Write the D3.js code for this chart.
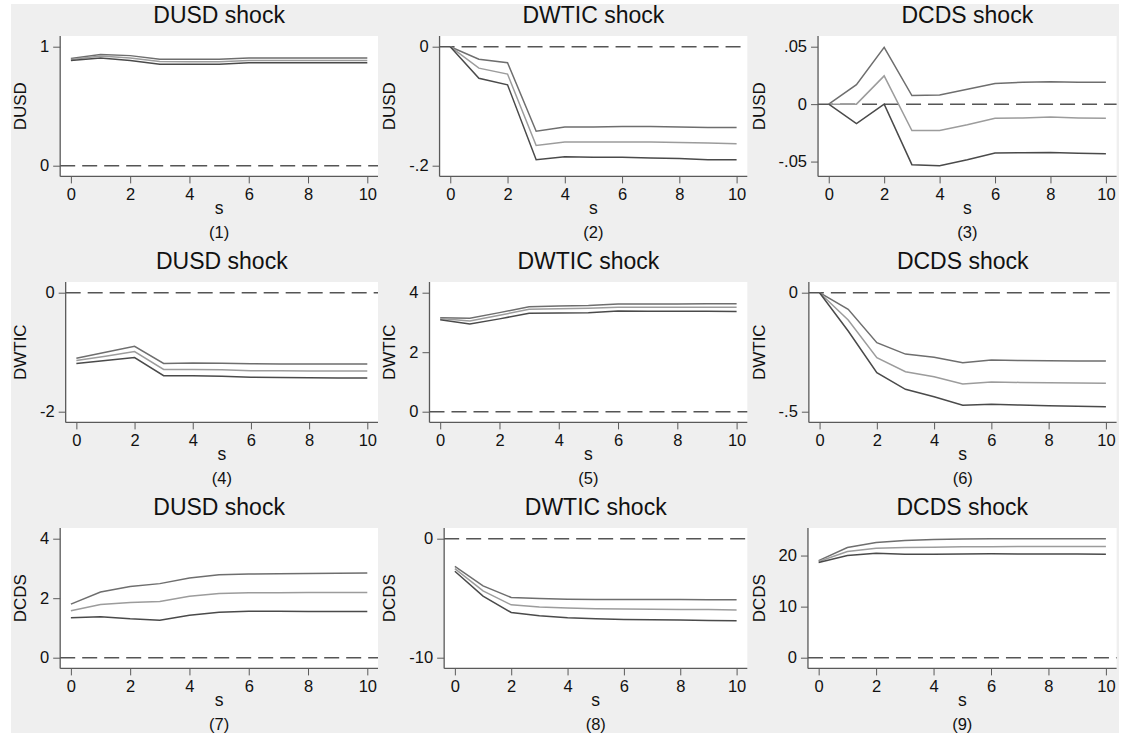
<!DOCTYPE html>
<html lang="en">
<head>
    <meta charset="UTF-8">
    <title>IRF grid</title>
    <style>
        body { margin: 0; background: #fff; }
        text { font-family: "Liberation Sans", Arial, sans-serif; fill: #111; }
    </style>
</head>
<body>
    <div id="chart"></div>

    <script src="https://d3js.org/d3.v7.min.js"></script>
    <script>
        // ---- data ----
        const steps = [0, 1, 2, 3, 4, 5, 6, 7, 8, 9, 10];
        const shockNames = ['DUSD shock', 'DWTIC shock', 'DCDS shock'];
        const responseNames = ['DUSD', 'DWTIC', 'DCDS'];
        const xTicks = [0, 2, 4, 6, 8, 10];

        // one entry per panel, panels numbered (1)..(9) row by row
        const yTickValues = [
            [0, 1], [-0.2, 0], [-0.05, 0, 0.05],
            [-2, 0], [0, 2, 4], [-0.5, 0],
            [0, 2, 4], [-10, 0], [0, 10, 20]
        ];
        const yTickLabels = [
            ['0', '1'], ['-.2', '0'], ['-.05', '0', '.05'],
            ['-2', '0'], ['0', '2', '4'], ['-.5', '0'],
            ['0', '2', '4'], ['-10', '0'], ['0', '10', '20']
        ];

        const upperCI = [
            [0.900, 0.935, 0.925, 0.895, 0.895, 0.895, 0.905, 0.905, 0.905, 0.905, 0.905],
            [0, -0.021, -0.027, -0.142, -0.135, -0.135, -0.134, -0.134, -0.135, -0.136, -0.136],
            [0, 0.017, 0.0495, 0.0075, 0.008, 0.013, 0.018, 0.019, 0.0195, 0.019, 0.019],
            [-1.10, -1.00, -0.90, -1.19, -1.18, -1.185, -1.195, -1.197, -1.197, -1.198, -1.198],
            [3.16, 3.14, 3.33, 3.53, 3.55, 3.57, 3.62, 3.62, 3.62, 3.63, 3.63],
            [0, -0.07, -0.21, -0.258, -0.271, -0.294, -0.283, -0.285, -0.286, -0.287, -0.287],
            [1.80, 2.21, 2.39, 2.49, 2.68, 2.79, 2.81, 2.82, 2.83, 2.84, 2.85],
            [-2.32, -3.97, -4.94, -5.02, -5.08, -5.10, -5.11, -5.11, -5.11, -5.12, -5.14],
            [19.02, 21.57, 22.55, 22.94, 23.12, 23.22, 23.27, 23.29, 23.3, 23.3, 23.3]
        ];
        const irfLine = [
            [0.893, 0.922, 0.905, 0.875, 0.873, 0.873, 0.885, 0.885, 0.885, 0.885, 0.885],
            [0, -0.036, -0.046, -0.166, -0.160, -0.160, -0.160, -0.160, -0.161, -0.162, -0.163],
            [0, 0, 0.0246, -0.023, -0.023, -0.018, -0.0122, -0.012, -0.0113, -0.012, -0.0122],
            [-1.14, -1.07, -0.99, -1.29, -1.29, -1.295, -1.31, -1.312, -1.314, -1.315, -1.316],
            [3.13, 3.05, 3.24, 3.44, 3.46, 3.48, 3.51, 3.51, 3.51, 3.51, 3.51],
            [0, -0.115, -0.273, -0.332, -0.353, -0.384, -0.375, -0.377, -0.378, -0.379, -0.38],
            [1.575, 1.79, 1.855, 1.89, 2.067, 2.157, 2.18, 2.185, 2.19, 2.19, 2.19],
            [-2.51, -4.39, -5.56, -5.73, -5.83, -5.88, -5.91, -5.92, -5.94, -5.96, -5.99],
            [18.82, 20.78, 21.45, 21.57, 21.63, 21.7, 21.74, 21.76, 21.76, 21.76, 21.76]
        ];
        const lowerCI = [
            [0.885, 0.905, 0.885, 0.853, 0.852, 0.852, 0.865, 0.865, 0.865, 0.865, 0.865],
            [0, -0.053, -0.064, -0.190, -0.185, -0.186, -0.186, -0.187, -0.188, -0.190, -0.190],
            [0, -0.017, 0, -0.0527, -0.0536, -0.0484, -0.0426, -0.0423, -0.042, -0.0428, -0.0431],
            [-1.19, -1.14, -1.09, -1.395, -1.395, -1.405, -1.42, -1.425, -1.43, -1.433, -1.434],
            [3.09, 2.95, 3.12, 3.31, 3.32, 3.33, 3.385, 3.38, 3.38, 3.375, 3.37],
            [0, -0.161, -0.336, -0.406, -0.437, -0.473, -0.469, -0.472, -0.475, -0.477, -0.479],
            [1.34, 1.374, 1.307, 1.263, 1.43, 1.53, 1.56, 1.56, 1.555, 1.555, 1.555],
            [-2.74, -4.83, -6.20, -6.48, -6.65, -6.73, -6.78, -6.81, -6.84, -6.87, -6.90],
            [18.63, 20.0, 20.47, 20.27, 20.27, 20.3, 20.33, 20.32, 20.3, 20.28, 20.27]
        ];

        // ---- layout ----
        const w = 1121;
        const h = 744;
        const colW = 369.3;
        const rowH = 246;
        const pad = 10.7;   // gap between data range and plot region edge
        const tickLen = 7;

        const lineColors = { upper: '#6e6e6e', irf: '#9c9c9c', lower: '#4a4a4a' };
        const axisColor = '#5a5a5a';

        const svg = d3.select('#chart')
            .append('svg')
            .attr('width', w)
            .attr('height', h);

        svg.append('rect')
            .attr('x', 11).attr('y', 4)
            .attr('width', 1108).attr('height', 729)
            .attr('fill', '#efefef');

        for (let i = 0; i < 9; i++) {
            const row = Math.floor(i / 3);
            const col = i % 3;
            const colStart = colW * col;
            const dataTop = 46.7 + rowH * row;
            const dataBottom = 165.7 + rowH * row;
            const plotTop = dataTop - pad;
            const plotBottom = dataBottom + pad;
            const plotRight = 378 + colW * col;

            const g = svg.append('g');
            const plotRect = g.append('rect').attr('fill', '#fff');

            const yDomain = d3.extent([...upperCI[i], ...irfLine[i], ...lowerCI[i], 0, ...yTickValues[i]]);
            const yScale = d3.scaleLinear().domain(yDomain).range([dataBottom, dataTop]);

            const yAxis = d3.axisLeft(yScale)
                .tickValues(yTickValues[i])
                .tickFormat((d, k) => yTickLabels[i][k])
                .tickSize(tickLen)
                .tickPadding(4);

            const yG = g.append('g').call(yAxis);
            yG.select('.domain').remove();
            yG.selectAll('text').style('font-size', '16.5px').attr('fill', '#111');
            yG.selectAll('line').attr('stroke', axisColor);

            // left edge of plot region depends on width of the tick labels
            let labelW = 0;
            yG.selectAll('text').each(function () {
                labelW = Math.max(labelW, this.getComputedTextLength());
            });
            const plotLeft = colStart + 51 + labelW;
            yG.attr('transform', `translate(${plotLeft},0)`);

            plotRect
                .attr('x', plotLeft).attr('y', plotTop)
                .attr('width', plotRight - plotLeft)
                .attr('height', plotBottom - plotTop);

            const xScale = d3.scaleLinear()
                .domain([0, 10])
                .range([plotLeft + pad, plotRight - pad]);

            const xAxis = d3.axisBottom(xScale)
                .tickValues(xTicks)
                .tickFormat(d3.format('d'))
                .tickSize(tickLen);

            const xG = g.append('g')
                .attr('transform', `translate(0,${plotBottom})`)
                .call(xAxis);
            xG.select('.domain').remove();
            xG.selectAll('text').style('font-size', '16.5px').attr('fill', '#111')
                .attr('y', 23.5).attr('dy', 0);
            xG.selectAll('line').attr('stroke', axisColor);

            // axis lines
            g.append('line')
                .attr('x1', plotLeft).attr('x2', plotLeft)
                .attr('y1', plotTop).attr('y2', plotBottom)
                .attr('stroke', axisColor).attr('stroke-width', 1.3);
            g.append('line')
                .attr('x1', plotLeft).attr('x2', plotRight)
                .attr('y1', plotBottom).attr('y2', plotBottom)
                .attr('stroke', axisColor).attr('stroke-width', 1.3);

            // zero reference
            g.append('line')
                .attr('x1', plotLeft).attr('x2', plotRight)
                .attr('y1', yScale(0)).attr('y2', yScale(0))
                .attr('stroke', '#555')
                .attr('stroke-width', 1.5)
                .attr('stroke-dasharray', '15,7');

            const line = d3.line()
                .x((d, k) => xScale(steps[k]))
                .y(d => yScale(d));

            [['upper', upperCI[i]], ['irf', irfLine[i]], ['lower', lowerCI[i]]].forEach(([key, vals]) => {
                g.append('path')
                    .datum(vals)
                    .attr('d', line)
                    .attr('fill', 'none')
                    .attr('stroke', lineColors[key])
                    .attr('stroke-width', 1.5);
            });

            const cx = (plotLeft + plotRight) / 2;

            g.append('text')
                .attr('x', cx).attr('y', 22.7 + rowH * row)
                .attr('text-anchor', 'middle')
                .style('font-size', '23px')
                .text(shockNames[col]);

            g.append('text')
                .attr('transform', `translate(${colStart + 26},${(dataTop + dataBottom) / 2}) rotate(-90)`)
                .attr('text-anchor', 'middle')
                .style('font-size', '17px')
                .text(responseNames[row]);

            g.append('text')
                .attr('x', cx).attr('y', 213.5 + rowH * row)
                .attr('text-anchor', 'middle')
                .style('font-size', '17.5px')
                .text('s');

            g.append('text')
                .attr('x', cx).attr('y', 238 + rowH * row)
                .attr('text-anchor', 'middle')
                .style('font-size', '16.5px')
                .text(`(${i + 1})`);
        }
    </script>
</body>
</html>
